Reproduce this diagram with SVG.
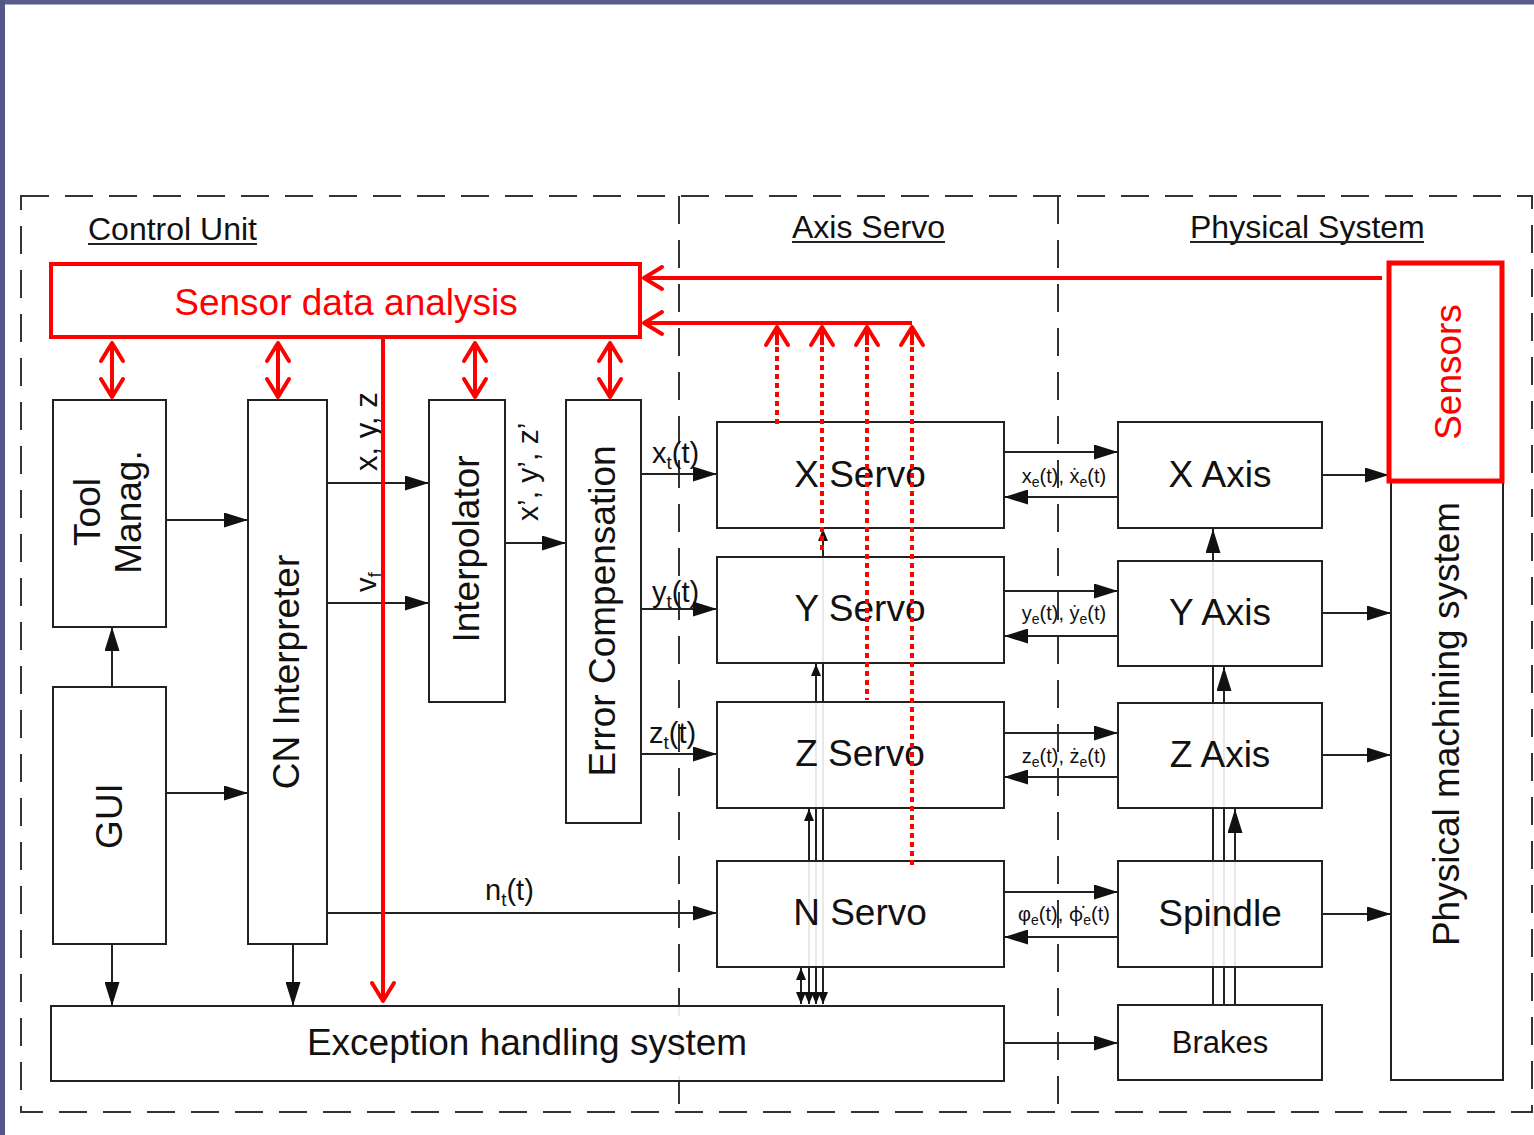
<svg xmlns="http://www.w3.org/2000/svg" width="1534" height="1135" viewBox="0 0 1534 1135">
<style>
.t{font-family:"Liberation Sans",Arial,sans-serif;fill:#111}
.big{font-size:37px}
.ttl{font-size:32px}
.lbl{font-size:29px}
.sm{font-size:20px}
.box{fill:#fff;fill-opacity:0.9;stroke:#222;stroke-width:2}
.ln{stroke:#222;stroke-width:2;fill:none}
.red{stroke:#f00;stroke-width:4;fill:none}
.dot{stroke:#f00;stroke-width:4;fill:none;stroke-dasharray:5 4}
.dash{stroke:#333;stroke-width:2;fill:none;stroke-dasharray:28 16}
.rt{fill:#f00}
</style>
<defs>
<marker id="ah" viewBox="0 0 24 15" refX="24" refY="7.5" markerWidth="24" markerHeight="15" markerUnits="userSpaceOnUse" orient="auto-start-reverse"><path d="M0,0 L24,7.5 L0,15 z" fill="#111"/></marker>
<marker id="as" viewBox="0 0 12 10" refX="12" refY="5" markerWidth="12" markerHeight="10" markerUnits="userSpaceOnUse" orient="auto-start-reverse"><path d="M0,0 L12,5 L0,10 z" fill="#111"/></marker>
<marker id="rc" viewBox="0 0 24 26" refX="21" refY="13" markerWidth="24" markerHeight="26" markerUnits="userSpaceOnUse" orient="auto-start-reverse" overflow="visible"><path d="M3,2 L21,13 L3,24" fill="none" stroke="#f00" stroke-width="4" stroke-linecap="round" stroke-linejoin="round"/></marker>
</defs>
<rect x="0" y="0" width="1534" height="1135" fill="#fff"/>
<rect x="0" y="0" width="1534" height="4.5" fill="#5a5b8e"/>
<rect x="0" y="0" width="5" height="1135" fill="#55568a"/>

<g id="frames">
<rect class="dash" x="21" y="196" width="1511" height="916"/>
<line class="dash" x1="679" y1="196" x2="679" y2="1112"/>
<line class="dash" x1="1058" y1="196" x2="1058" y2="1112"/>
<text class="t ttl" x="88" y="240">Control Unit</text>
<line class="ln" x1="88" y1="244" x2="257" y2="244" stroke-width="1.5"/>
<text class="t ttl" x="792" y="238">Axis Servo</text>
<line class="ln" x1="792" y1="242" x2="945" y2="242" stroke-width="1.5"/>
<text class="t ttl" x="1190" y="238">Physical System</text>
<line class="ln" x1="1190" y1="242" x2="1424" y2="242" stroke-width="1.5"/>
</g>

<g id="connectors">
<line class="ln" x1="166" y1="520" x2="248" y2="520" marker-end="url(#ah)"/>
<line class="ln" x1="166" y1="793" x2="248" y2="793" marker-end="url(#ah)"/>
<line class="ln" x1="112" y1="687" x2="112" y2="627" marker-end="url(#ah)"/>
<line class="ln" x1="112" y1="944" x2="112" y2="1006" marker-end="url(#ah)"/>
<line class="ln" x1="293" y1="944" x2="293" y2="1006" marker-end="url(#ah)"/>
<line class="ln" x1="327" y1="483" x2="429" y2="483" marker-end="url(#ah)"/>
<line class="ln" x1="327" y1="603" x2="429" y2="603" marker-end="url(#ah)"/>
<line class="ln" x1="505" y1="543" x2="566" y2="543" marker-end="url(#ah)"/>
<line class="ln" x1="641" y1="474" x2="717" y2="474" marker-end="url(#ah)"/>
<line class="ln" x1="641" y1="609" x2="717" y2="609" marker-end="url(#ah)"/>
<line class="ln" x1="641" y1="754" x2="717" y2="754" marker-end="url(#ah)"/>
<line class="ln" x1="327" y1="913" x2="717" y2="913" marker-end="url(#ah)"/>
<line class="ln" x1="1004" y1="1043" x2="1118" y2="1043" marker-end="url(#ah)"/>

<line class="ln" x1="1004" y1="452" x2="1118" y2="452" marker-end="url(#ah)"/>
<line class="ln" x1="1118" y1="497" x2="1004" y2="497" marker-end="url(#ah)"/>
<line class="ln" x1="1004" y1="591" x2="1118" y2="591" marker-end="url(#ah)"/>
<line class="ln" x1="1118" y1="636" x2="1004" y2="636" marker-end="url(#ah)"/>
<line class="ln" x1="1004" y1="733" x2="1118" y2="733" marker-end="url(#ah)"/>
<line class="ln" x1="1118" y1="777" x2="1004" y2="777" marker-end="url(#ah)"/>
<line class="ln" x1="1004" y1="892" x2="1118" y2="892" marker-end="url(#ah)"/>
<line class="ln" x1="1118" y1="937" x2="1004" y2="937" marker-end="url(#ah)"/>

<line class="ln" x1="1322" y1="475" x2="1389" y2="475" marker-end="url(#ah)"/>
<line class="ln" x1="1322" y1="613" x2="1391" y2="613" marker-end="url(#ah)"/>
<line class="ln" x1="1322" y1="755" x2="1391" y2="755" marker-end="url(#ah)"/>
<line class="ln" x1="1322" y1="914" x2="1391" y2="914" marker-end="url(#ah)"/>

<line class="ln" x1="801" y1="1004" x2="801" y2="968" marker-start="url(#as)" marker-end="url(#as)"/>
<line class="ln" x1="809" y1="1004" x2="809" y2="809" marker-start="url(#as)" marker-end="url(#as)"/>
<line class="ln" x1="816" y1="1004" x2="816" y2="664" marker-start="url(#as)" marker-end="url(#as)"/>
<line class="ln" x1="823" y1="1004" x2="823" y2="529" marker-start="url(#as)" marker-end="url(#as)"/>

<line class="ln" x1="1213" y1="1005" x2="1213" y2="529" marker-end="url(#ah)"/>
<line class="ln" x1="1224" y1="1005" x2="1224" y2="667" marker-end="url(#ah)"/>
<line class="ln" x1="1235" y1="1005" x2="1235" y2="809" marker-end="url(#ah)"/>
</g>

<g id="tool-manag">
<rect class="box" x="53" y="400" width="113" height="227"/>
<text class="t big" text-anchor="middle" transform="translate(109,512) rotate(-90)"><tspan x="0" y="-9">Tool</tspan><tspan x="0" y="32">Manag.</tspan></text>
</g>
<g id="gui">
<rect class="box" x="53" y="687" width="113" height="257"/>
<text class="t big" text-anchor="middle" transform="translate(122,816) rotate(-90)">GUI</text>
</g>
<g id="cn-interpreter">
<rect class="box" x="248" y="400" width="79" height="544"/>
<text class="t big" text-anchor="middle" transform="translate(299,672) rotate(-90)">CN Interpreter</text>
</g>
<g id="interpolator">
<rect class="box" x="429" y="400" width="76" height="302"/>
<text class="t big" text-anchor="middle" transform="translate(479,549) rotate(-90)">Interpolator</text>
</g>
<g id="error-compensation">
<rect class="box" x="566" y="400" width="75" height="423"/>
<text class="t big" text-anchor="middle" transform="translate(615,611) rotate(-90)">Error Compensation</text>
</g>
<g id="exception">
<rect class="box" x="51" y="1006" width="953" height="75"/>
<text class="t big" x="527" y="1055" text-anchor="middle">Exception handling system</text>
</g>

<g id="x-servo"><rect class="box" x="717" y="422" width="287" height="106"/><text class="t big" x="860" y="487" text-anchor="middle">X Servo</text></g>
<g id="y-servo"><rect class="box" x="717" y="557" width="287" height="106"/><text class="t big" x="860" y="621" text-anchor="middle">Y Servo</text></g>
<g id="z-servo"><rect class="box" x="717" y="702" width="287" height="106"/><text class="t big" x="860" y="766" text-anchor="middle">Z Servo</text></g>
<g id="n-servo"><rect class="box" x="717" y="861" width="287" height="106"/><text class="t big" x="860" y="925" text-anchor="middle">N Servo</text></g>

<g id="x-axis"><rect class="box" x="1118" y="422" width="204" height="106"/><text class="t big" x="1220" y="487" text-anchor="middle">X Axis</text></g>
<g id="y-axis"><rect class="box" x="1118" y="561" width="204" height="105"/><text class="t big" x="1220" y="625" text-anchor="middle">Y Axis</text></g>
<g id="z-axis"><rect class="box" x="1118" y="703" width="204" height="105"/><text class="t big" x="1220" y="767" text-anchor="middle">Z Axis</text></g>
<g id="spindle"><rect class="box" x="1118" y="861" width="204" height="106"/><text class="t big" x="1220" y="926" text-anchor="middle">Spindle</text></g>
<g id="brakes"><rect class="box" x="1118" y="1005" width="204" height="75"/><text class="t" style="font-size:31px" x="1220" y="1053" text-anchor="middle">Brakes</text></g>

<g id="physical-machining-system">
<rect class="box" x="1391" y="480" width="112" height="600"/>
<text class="t big" text-anchor="middle" transform="translate(1459,724) rotate(-90)">Physical machining system</text>
</g>

<g id="labels">
<text class="t" style="font-size:31px" transform="translate(377,471) rotate(-90)">x, y, z</text>
<text class="t lbl" transform="translate(376,592) rotate(-90)">v<tspan style="font-size:19px" dy="5">f</tspan></text>
<text class="t" style="font-size:30px" transform="translate(538,521) rotate(-90)">x’, y’, z’</text>
<text class="t lbl" x="652" y="463">x<tspan style="font-size:19px" dy="6">t</tspan><tspan dy="-6">(t)</tspan></text>
<text class="t lbl" x="652" y="602">y<tspan style="font-size:19px" dy="6">t</tspan><tspan dy="-6">(t)</tspan></text>
<text class="t lbl" x="649" y="743">z<tspan style="font-size:19px" dy="6">t</tspan><tspan dy="-6">(t)</tspan></text>
<text class="t lbl" x="485" y="900">n<tspan style="font-size:19px" dy="6">t</tspan><tspan dy="-6">(t)</tspan></text>
<text class="t sm" x="1064" y="483" text-anchor="middle">x<tspan style="font-size:14px" dy="4">e</tspan><tspan dy="-4">(t), ẋ</tspan><tspan style="font-size:14px" dy="4">e</tspan><tspan dy="-4">(t)</tspan></text>
<text class="t sm" x="1064" y="620" text-anchor="middle">y<tspan style="font-size:14px" dy="4">e</tspan><tspan dy="-4">(t), ẏ</tspan><tspan style="font-size:14px" dy="4">e</tspan><tspan dy="-4">(t)</tspan></text>
<text class="t sm" x="1064" y="763" text-anchor="middle">z<tspan style="font-size:14px" dy="4">e</tspan><tspan dy="-4">(t), ż</tspan><tspan style="font-size:14px" dy="4">e</tspan><tspan dy="-4">(t)</tspan></text>
<text class="t sm" x="1064" y="921" text-anchor="middle">φ<tspan style="font-size:14px" dy="4">e</tspan><tspan dy="-4">(t), </tspan><tspan style="font-family:'Noto Sans',sans-serif">φ̇</tspan><tspan style="font-size:14px" dy="4">e</tspan><tspan dy="-4">(t)</tspan></text>
</g>

<g id="sensors">
<rect x="1389" y="263" width="113" height="218" fill="#fff" stroke="#f00" stroke-width="5"/>
<text class="t big rt" text-anchor="middle" transform="translate(1461,372) rotate(-90)">Sensors</text>
</g>
<g id="sensor-data-analysis">
<rect x="51" y="264" width="589" height="73" fill="#fff" stroke="#f00" stroke-width="4"/>
<text class="t big rt" x="346" y="315" text-anchor="middle">Sensor data analysis</text>
</g>

<g id="red-connectors">
<line class="red" x1="1382" y1="278" x2="644" y2="278" marker-end="url(#rc)"/>
<line class="red" x1="912" y1="323" x2="644" y2="323" marker-end="url(#rc)"/>
<line class="red" x1="383" y1="339" x2="383" y2="1001" marker-end="url(#rc)"/>
<line class="red" x1="112" y1="343" x2="112" y2="397" marker-start="url(#rc)" marker-end="url(#rc)"/>
<line class="red" x1="278" y1="343" x2="278" y2="397" marker-start="url(#rc)" marker-end="url(#rc)"/>
<line class="red" x1="475" y1="343" x2="475" y2="397" marker-start="url(#rc)" marker-end="url(#rc)"/>
<line class="red" x1="610" y1="343" x2="610" y2="397" marker-start="url(#rc)" marker-end="url(#rc)"/>
<line class="dot" x1="777" y1="338" x2="777" y2="428"/>
<line class="dot" x1="822" y1="338" x2="822" y2="553"/>
<line class="dot" x1="867" y1="338" x2="867" y2="700"/>
<line class="dot" x1="912" y1="338" x2="912" y2="866"/>
<line class="red" x1="777" y1="345" x2="777" y2="327" marker-end="url(#rc)"/>
<line class="red" x1="822" y1="345" x2="822" y2="327" marker-end="url(#rc)"/>
<line class="red" x1="867" y1="345" x2="867" y2="327" marker-end="url(#rc)"/>
<line class="red" x1="912" y1="345" x2="912" y2="327" marker-end="url(#rc)"/>
</g>
</svg>
